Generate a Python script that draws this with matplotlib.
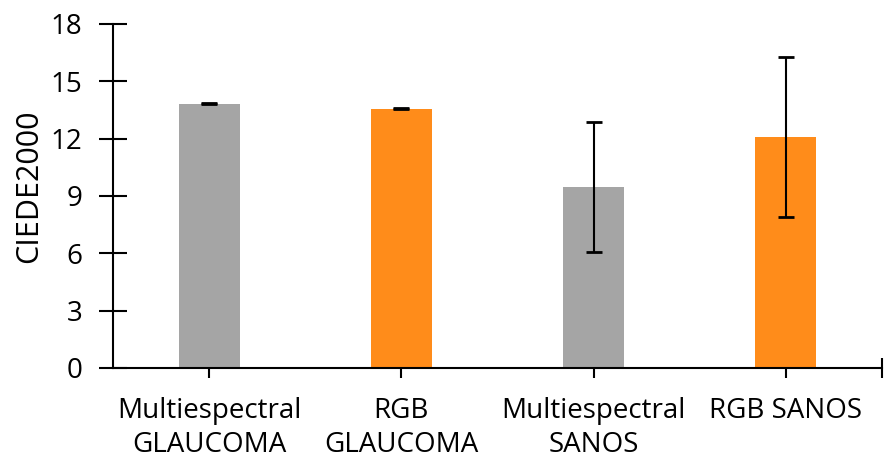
import matplotlib
matplotlib.use("Agg")
import matplotlib.pyplot as plt
import numpy as np

categories = ["Multiespectral\nGLAUCOMA", "RGB\nGLAUCOMA", "Multiespectral\nSANOS", "RGB SANOS"]
values = [13.82, 13.56, 9.47, 12.08]
errors = [0.03, 0.03, 3.4, 4.2]
colors = ["#A5A5A5", "#FF8C1A", "#A5A5A5", "#FF8C1A"]

plt.rcParams['font.family'] = ['Open Sans', 'DejaVu Sans']

fig = plt.figure(figsize=(8.85, 4.66), dpi=100)
ax = fig.add_axes([113/885, 1-368/466, (882-113)/885, 344/466])

x = np.arange(len(categories))
ax.bar(x, values, width=0.317, color=colors, zorder=2)
ax.errorbar(x, values, yerr=errors, fmt='none', ecolor='black',
            elinewidth=1.5, capsize=6, capthick=2, zorder=3)

ax.set_xlim(-0.5, len(categories) - 0.5)
ax.set_ylim(0, 18)
ax.set_yticks(np.arange(0, 19, 3))
ax.set_xticks(list(x) + [len(categories) - 0.5])
ax.set_xticklabels(categories + [""], fontsize=20, linespacing=1.3)
ax.tick_params(axis='y', labelsize=20, direction='inout', length=20, width=1.5, pad=12)
ax.tick_params(axis='x', direction='inout', length=14, width=1.5, pad=14)
ax.set_ylabel("CIEDE2000", fontsize=22)
ax.yaxis.set_label_coords(-0.09, (368 - 186) / 344)

for s in ['top', 'right']:
    ax.spines[s].set_visible(False)
for s in ['left', 'bottom']:
    ax.spines[s].set_linewidth(1.5)

fig.savefig("out.png", dpi=100)
